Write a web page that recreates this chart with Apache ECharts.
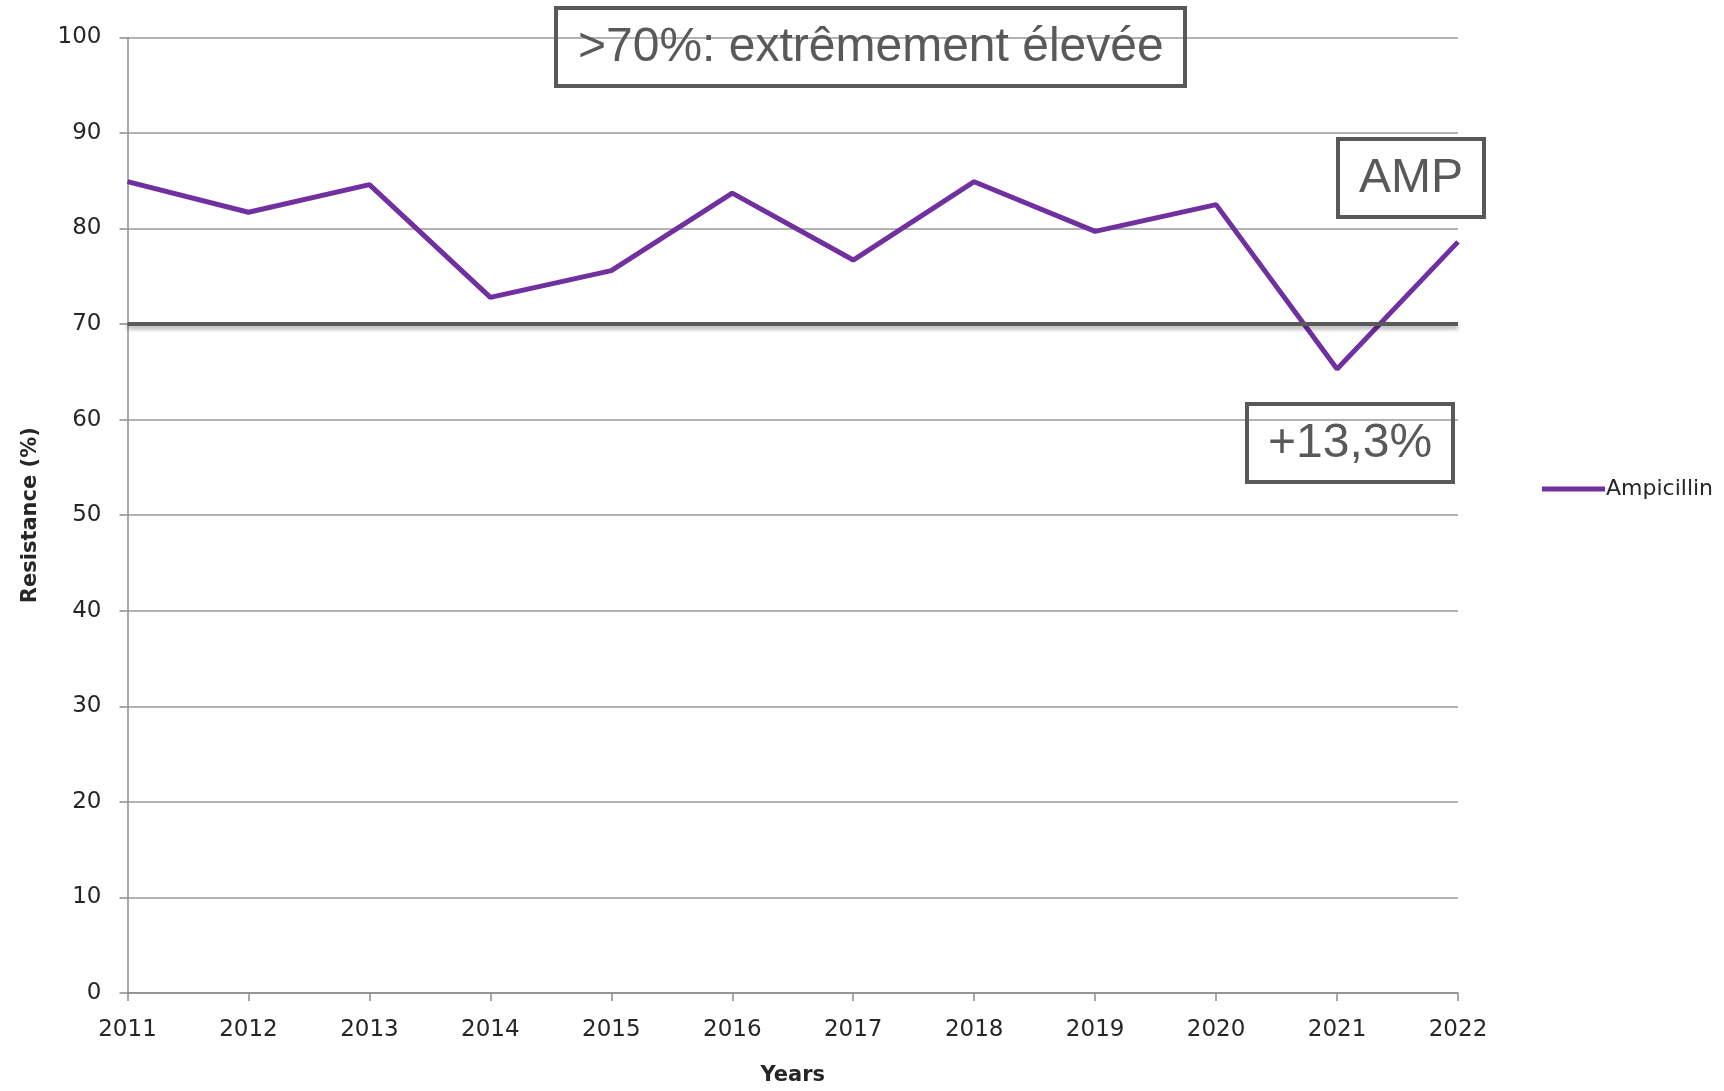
<!DOCTYPE html>
<html>
<head>
<meta charset="utf-8">
<script src="https://cdn.jsdelivr.net/npm/echarts@6/dist/echarts.min.js"></script>
<style>
html,body{margin:0;padding:0;background:#fff;}
#chart{width:1724px;height:1091px;}
</style>
</head>
<body>
<div id="chart"></div>
<script>
const years = ['2011','2012','2013','2014','2015','2016','2017','2018','2019','2020','2021','2022'];
const ampicillin = [84.9, 81.7, 84.6, 72.8, 75.6, 83.7, 76.7, 84.9, 79.7, 82.5, 65.3, 78.6];
const threshold = 70;
const yTicks = {min: 0, max: 100, interval: 10};
const seriesName = 'Ampicillin';
const boxTexts = ['>70%: extrêmement élevée', 'AMP', '+13,3%'];

const chart = echarts.init(document.getElementById('chart'), null, {renderer: 'canvas'});
const boxStyle = {
  borderColor: '#595959', borderWidth: 4,
  textStyle: {fontFamily: 'Liberation Sans, Arial', fontSize: 48, fontWeight: 'normal', color: '#595959', lineHeight: 50}
};
chart.setOption({
  animation: false,
  backgroundColor: '#ffffff',
  title: [
    Object.assign({text: boxTexts[0], left: 556, top: 8, padding: [15, 22, 13, 22]}, boxStyle),
    Object.assign({text: boxTexts[1], left: 1338, top: 139, padding: [15, 21, 13, 21]}, boxStyle),
    Object.assign({text: boxTexts[2], left: 1247, top: 404, padding: [15, 21, 13, 21]}, boxStyle)
  ],
  grid: {left: 127.5, right: 266, top: 37.4, bottom: 92, containLabel: false},
  legend: {
    show: true, left: 1537, top: 473, orient: 'vertical',
    itemWidth: 63, itemHeight: 14, itemGap: 0,
    textStyle: {fontFamily: 'DejaVu Sans', fontSize: 22, color: '#262626', padding: [0,0,0,-4]},
    data: [{name: seriesName, icon: 'path://M0,0 L63,0 L63,5 L0,5 Z'}]
  },
  xAxis: {
    type: 'category', data: years, boundaryGap: false,
    name: 'Years', nameLocation: 'middle', nameGap: 72,
    nameTextStyle: {fontFamily: 'DejaVu Sans', fontWeight: 'bold', fontSize: 21, color: '#262626'},
    axisLine: {lineStyle: {color: '#8c8c8c', width: 1.5}},
    axisTick: {show: true, length: 8, alignWithLabel: true, lineStyle: {color: '#8c8c8c', width: 1.5}},
    axisLabel: {fontFamily: 'DejaVu Sans', fontSize: 23, color: '#262626', margin: 26},
    splitLine: {show: false}
  },
  yAxis: {
    type: 'value', min: yTicks.min, max: yTicks.max, interval: yTicks.interval,
    name: 'Resistance (%)', nameLocation: 'middle', nameGap: 86, nameRotate: 90,
    nameTextStyle: {fontFamily: 'DejaVu Sans', fontWeight: 'bold', fontSize: 21, color: '#262626'},
    axisLine: {show: true, lineStyle: {color: '#8c8c8c', width: 1.5}},
    axisTick: {show: true, length: 8, lineStyle: {color: '#8c8c8c', width: 1.5}},
    axisLabel: {fontFamily: 'DejaVu Sans', fontSize: 23, color: '#262626', margin: 26},
    splitLine: {show: true, lineStyle: {color: '#9a9a9a', width: 1.5}}
  },
  series: [{
    name: seriesName, type: 'line', data: ampicillin,
    symbol: 'none', showSymbol: false,
    lineStyle: {color: '#7030a0', width: 5},
    itemStyle: {color: '#7030a0'},
    z: 2,
    markLine: {
      silent: true, symbol: 'none', label: {show: false},
      lineStyle: {color: '#595959', width: 4, type: 'solid', shadowColor: 'rgba(0,0,0,0.35)', shadowBlur: 4, shadowOffsetY: 3},
      data: [{yAxis: threshold}],
      z: 5
    }
  }]
});
</script>
</body>
</html>
